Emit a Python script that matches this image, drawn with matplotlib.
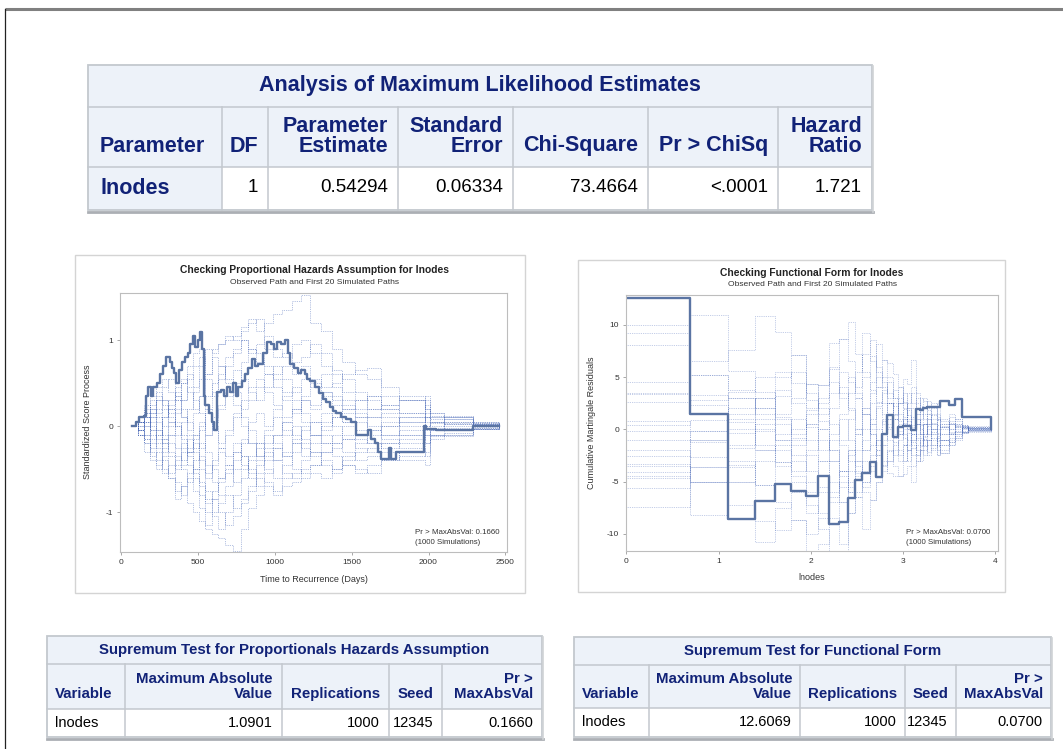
import matplotlib
matplotlib.use("Agg")
import matplotlib.pyplot as plt
from matplotlib.patches import Rectangle

plt.rcParams['font.family'] = ['Liberation Sans', 'DejaVu Sans']
plt.rcParams['axes.unicode_minus'] = False

# ---------------------------------------------------------------- data
# Analysis of Maximum Likelihood Estimates
mle_columns = [["Parameter"], ["DF"], ["Parameter", "Estimate"], ["Standard", "Error"],
               ["Chi-Square"], ["Pr > ChiSq"], ["Hazard", "Ratio"]]
mle_row = ["lnodes", "1", "0.54294", "0.06334", "73.4664", "<.0001", "1.721"]

# Supremum tests
sup_columns = [["Variable"], ["Maximum Absolute", "Value"], ["Replications"], ["Seed"],
               ["Pr >", "MaxAbsVal"]]
ph_row = ["lnodes", "1.0901", "1000", "12345", "0.1660"]
ff_row = ["lnodes", "12.6069", "1000", "12345", "0.0700"]

# Proportional hazards check: observed standardized score process
ph_obs_time = [75, 97, 118, 151, 162, 177, 194, 211, 233, 254, 276, 297, 319, 334, 349, 362,
               377, 399, 420, 435, 453, 470, 485, 500, 517, 530, 539, 550, 571, 593, 608, 625,
               651, 672, 690, 707, 728, 750, 765, 787, 808, 830, 851, 873, 894, 927, 952, 974,
               996, 1017, 1039, 1067, 1088, 1103, 1125, 1153, 1174, 1196, 1211, 1233, 1261,
               1289, 1315, 1336, 1358, 1379, 1401, 1433, 1461, 1498, 1526, 1573, 1605, 1627,
               1649, 1670, 1690, 1741, 1756, 1790, 1830, 1972, 1985, 2050, 2290, 2460]
ph_obs_value = [0, 0.05, 0.1, 0.12, 0.35, 0.45, 0.35, 0.45, 0.5, 0.6, 0.7, 0.8, 0.75, 0.68,
                0.62, 0.5, 0.65, 0.75, 0.8, 0.85, 0.95, 1.05, 0.92, 1.0, 1.0901, 0.9, 0.35,
                0.25, 0.15, 0.05, -0.05, 0.4, 0.42, 0.35, 0.45, 0.4, 0.5, 0.35, 0.45, 0.52,
                0.6, 0.68, 0.78, 0.7, 0.72, 0.85, 0.98, 0.95, 0.9, 0.98, 0.95, 1.0, 0.85,
                0.72, 0.68, 0.62, 0.65, 0.6, 0.55, 0.52, 0.45, 0.38, 0.32, 0.28, 0.22, 0.18,
                0.15, 0.1, 0.08, 0.05, -0.1, -0.1, -0.05, -0.15, -0.2, -0.3, -0.38, -0.26,
                -0.38, -0.3, -0.3, 0.0, -0.03, -0.05, 0.0, 0.0]

# Proportional hazards check: first 20 simulated paths
ph_sim_time = [75, 110, 150, 190, 230, 270, 310, 350, 390, 430, 470, 510, 550, 590, 630, 680,
               730, 780, 830, 880, 930, 990, 1050, 1110, 1170, 1230, 1300, 1370, 1440, 1520,
               1600, 1690, 1810, 1980, 2010, 2100, 2290, 2460]
ph_sim_01 = [0, 0.05, 0.1, -0.05, 0.15, 0.3, 0.2, 0.35, 0.5, 0.6, 0.45, 0.7, 0.9, 0.85, 0.95, 1.05, 1.0, 1.15, 1.25, 1.1, 1.2, 1.3, 1.35, 1.45, 1.52, 1.2, 1.1, 0.9, 0.75, 0.6, 0.55, 0.35, 0.3, 0.1, 0.05, 0.1, 0.02, 0.0]
ph_sim_02 = [0, -0.1, -0.2, -0.35, -0.3, -0.5, -0.6, -0.75, -0.7, -0.9, -1.0, -1.1, -1.2, -1.25, -1.3, -1.38, -1.45, -1.2, -0.95, -0.8, -0.7, -0.75, -0.6, -0.55, -0.5, -0.45, -0.4, -0.5, -0.35, -0.3, -0.25, -0.2, -0.15, -0.05, -0.1, -0.05, 0.0, 0.0]
ph_sim_03 = [0, 0.05, -0.1, 0.1, 0.2, 0.0, 0.25, 0.4, 0.3, 0.55, 0.7, 0.8, 0.6, 0.9, 0.95, 1.0, 1.05, 1.1, 1.2, 1.25, 0.9, 0.8, 0.85, 0.6, 0.7, 0.55, 0.45, 0.5, 0.6, 0.65, 0.68, 0.45, 0.3, 0.2, 0.1, 0.12, 0.05, 0.02]
ph_sim_04 = [0, -0.05, 0.1, -0.2, -0.4, -0.55, -0.45, -0.65, -0.8, -0.6, -0.75, -0.95, -1.15, -1.0, -0.9, -0.8, -0.95, -0.85, -0.7, -0.6, -0.65, -0.8, -0.7, -0.65, -0.6, -0.55, -0.6, -0.5, -0.45, -0.55, -0.45, -0.4, -0.35, -0.2, -0.15, -0.1, -0.03, 0.0]
ph_sim_05 = [0, 0.1, 0.2, 0.35, 0.45, 0.55, 0.4, 0.3, 0.5, 0.7, 0.85, 0.9, 0.55, 0.35, 0.6, 0.8, 0.9, 1.0, 0.85, 0.95, 1.05, 0.9, 0.8, 0.95, 1.0, 0.85, 0.7, 0.6, 0.4, 0.3, 0.2, 0.25, 0.15, 0.35, 0.1, 0.05, 0.03, 0.0]
ph_sim_06 = [0, -0.1, -0.3, -0.15, -0.05, -0.2, -0.35, -0.5, -0.45, -0.3, -0.55, -0.7, -0.9, -0.75, -0.6, -0.45, -0.3, -0.15, -0.2, -0.35, -0.2, -0.1, 0.05, -0.1, -0.25, -0.35, -0.3, -0.25, -0.15, -0.1, -0.05, 0.05, 0.1, 0.25, 0.15, 0.08, 0.02, 0.0]
ph_sim_07 = [0, 0.05, 0.15, 0.3, 0.1, -0.1, 0.05, 0.2, 0.1, -0.05, 0.15, 0.35, 0.6, 0.8, 0.7, 0.5, 0.65, 0.55, 0.4, 0.3, 0.45, 0.6, 0.7, 0.75, 0.8, 0.95, 0.85, 0.65, 0.55, 0.4, 0.3, 0.2, 0.35, 0.3, 0.15, 0.1, 0.05, 0.0]
ph_sim_08 = [0, -0.05, -0.2, -0.4, -0.5, -0.35, -0.6, -0.85, -0.7, -0.55, -0.4, -0.2, -0.45, -0.65, -0.8, -0.7, -0.5, -0.35, -0.55, -0.45, -0.3, -0.4, -0.55, -0.6, -0.4, -0.3, -0.2, -0.35, -0.45, -0.5, -0.55, -0.3, -0.4, -0.45, -0.1, -0.12, -0.04, 0.0]
ph_sim_09 = [0, 0.0, 0.1, 0.2, 0.35, 0.25, 0.1, 0.0, -0.15, -0.25, -0.1, 0.05, -0.3, -0.5, -0.6, -0.55, -0.4, -0.2, 0.05, 0.15, 0.0, 0.2, 0.35, 0.45, 0.3, 0.2, 0.35, 0.25, 0.15, 0.05, -0.05, -0.15, -0.25, -0.3, -0.05, 0.0, 0.02, 0.0]
ph_sim_10 = [0, 0.1, 0.05, -0.1, -0.25, -0.15, 0.0, 0.15, 0.3, 0.45, 0.3, 0.15, -0.1, 0.05, 0.2, 0.35, 0.5, 0.75, 0.9, 0.85, 0.7, 0.55, 0.4, 0.3, 0.15, 0.05, -0.05, 0.1, 0.2, 0.1, 0.0, -0.1, 0.05, 0.15, 0.12, 0.1, 0.04, 0.0]
ph_sim_11 = [0, -0.05, 0.05, 0.2, 0.05, -0.15, -0.3, -0.45, -0.3, -0.15, -0.3, -0.5, -0.75, -0.85, -1.0, -1.15, -1.05, -0.9, -0.75, -0.55, -0.4, -0.25, -0.35, -0.5, -0.55, -0.45, -0.3, -0.2, -0.1, -0.15, -0.2, -0.1, -0.05, 0.1, 0.05, -0.05, -0.02, 0.0]
ph_sim_12 = [0, 0.05, 0.15, 0.05, -0.1, 0.1, 0.3, 0.45, 0.55, 0.4, 0.2, 0.35, 0.2, 0.0, -0.2, -0.1, 0.1, 0.3, 0.45, 0.55, 0.4, 0.25, 0.1, 0.2, 0.05, -0.1, -0.2, -0.1, 0.0, 0.1, 0.2, 0.1, 0.0, -0.1, -0.05, 0.08, 0.02, 0.0]
ph_sim_13 = [0, -0.1, -0.15, 0.0, -0.15, -0.3, -0.2, -0.35, -0.5, -0.65, -0.5, -0.35, -0.55, -0.4, -0.25, -0.05, 0.15, 0.0, -0.2, -0.35, -0.5, -0.6, -0.45, -0.3, -0.2, -0.1, 0.0, 0.1, 0.05, -0.1, -0.2, -0.25, -0.2, -0.1, -0.1, -0.08, -0.02, 0.0]
ph_sim_14 = [0, 0.0, -0.1, -0.25, -0.1, 0.1, 0.2, 0.0, -0.25, -0.45, -0.6, -0.8, -1.0, -0.85, -0.65, -0.5, -0.3, -0.45, -0.6, -0.4, -0.25, -0.1, 0.05, 0.2, 0.3, 0.25, 0.4, 0.35, 0.2, 0.3, 0.35, 0.25, 0.3, 0.2, 0.08, 0.05, 0.01, 0.0]
ph_sim_15 = [0, 0.05, 0.0, 0.15, 0.3, 0.45, 0.55, 0.35, 0.2, 0.05, -0.1, -0.25, -0.1, 0.1, 0.25, 0.4, 0.25, 0.1, -0.05, -0.2, -0.35, -0.25, -0.1, 0.0, -0.15, -0.3, -0.45, -0.55, -0.4, -0.2, -0.1, 0.0, -0.1, -0.2, -0.05, -0.05, -0.03, 0.0]
ph_sim_16 = [0, -0.05, 0.05, -0.05, -0.2, -0.4, -0.55, -0.4, -0.2, -0.35, -0.5, -0.65, -0.85, -1.05, -1.2, -1.0, -0.8, -0.6, -0.4, -0.25, -0.1, -0.2, -0.35, -0.2, -0.05, 0.05, 0.15, 0.0, -0.15, -0.25, -0.3, -0.2, -0.1, 0.0, 0.03, 0.02, -0.01, 0.0]
ph_sim_17 = [0, 0.1, 0.25, 0.15, 0.3, 0.2, 0.05, -0.1, 0.05, 0.2, 0.4, 0.55, 0.35, 0.5, 0.7, 0.55, 0.4, 0.2, 0.3, 0.45, 0.6, 0.45, 0.3, 0.15, 0.35, 0.5, 0.4, 0.3, 0.25, 0.15, 0.1, 0.0, 0.1, 0.05, 0.0, 0.03, 0.01, 0.0]
ph_sim_18 = [0, -0.05, -0.15, -0.3, -0.45, -0.25, -0.1, 0.05, -0.1, -0.3, -0.2, -0.4, -0.6, -0.45, -0.3, -0.45, -0.65, -0.5, -0.35, -0.2, -0.05, 0.1, -0.05, -0.2, -0.35, -0.2, -0.1, -0.2, -0.3, -0.4, -0.35, -0.4, -0.3, -0.35, -0.12, -0.1, -0.03, 0.0]
ph_sim_19 = [0, 0.05, 0.1, 0.25, 0.4, 0.3, 0.15, 0.3, 0.1, -0.1, -0.25, -0.05, 0.2, 0.4, 0.55, 0.7, 0.85, 1.0, 0.9, 0.75, 0.6, 0.7, 0.55, 0.4, 0.55, 0.45, 0.6, 0.45, 0.3, 0.2, 0.35, 0.2, 0.15, 0.0, 0.05, 0.02, 0.0, 0.0]
ph_sim_20 = [0, -0.1, 0.0, 0.1, -0.05, -0.2, -0.1, -0.25, -0.4, -0.3, -0.15, 0.0, 0.15, -0.05, -0.25, -0.35, -0.2, -0.35, -0.5, -0.7, -0.55, -0.4, -0.3, -0.15, 0.0, -0.1, 0.05, 0.15, 0.05, -0.05, 0.1, 0.15, 0.05, 0.1, -0.02, -0.02, 0.0, 0.0]
ph_sims = [ph_sim_01, ph_sim_02, ph_sim_03, ph_sim_04, ph_sim_05, ph_sim_06, ph_sim_07,
           ph_sim_08, ph_sim_09, ph_sim_10, ph_sim_11, ph_sim_12, ph_sim_13, ph_sim_14,
           ph_sim_15, ph_sim_16, ph_sim_17, ph_sim_18, ph_sim_19, ph_sim_20]

# Functional form check: cumulative martingale residuals over lnodes
ff_lnodes = [0, 0.69, 1.10, 1.39, 1.61, 1.79, 1.95, 2.08, 2.20, 2.30, 2.40, 2.48, 2.56, 2.64,
             2.71, 2.77, 2.83, 2.89, 2.94, 3.00, 3.04, 3.09, 3.14, 3.18, 3.22, 3.26, 3.30,
             3.37, 3.40, 3.50, 3.56, 3.64, 3.71, 3.95]
ff_obs = [12.6069, 1.44, -8.6, -6.9, -5.2, -5.9, -6.35, -4.5, -9.1, -8.85, -6.55, -4.85, -4.2,
          -3.1, -4.6, -0.5, 1.35, -0.7, 0.2, 0.35, 0.3, -0.1, 1.9, 1.85, 2.0, 2.1, 2.1, 2.1,
          2.7, 2.3, 2.9, 1.2, 1.2, 0]
ff_sim_01 = [9.98, 10.9, 5.6, 3.6, 1.2, -0.5, 1.8, 3.0, 5.8, 8.6, 10.3, 7.2, 5.5, 3.8, 2.6, 1.5, 0.2, -1.2, -2.5, -1.5, -0.4, 1.2, 0.5, -0.8, -1.6, -1.0, -0.3, 0.4, -0.5, 0.6, 0.2, -0.3, 0.1, 0]
ff_sim_02 = [9.2, 6.5, 7.6, 10.85, 9.3, 7.1, 4.3, 2.0, 0.5, -1.5, -3.0, -4.2, -2.0, 0.5, 2.2, 3.8, 2.5, 1.0, -0.5, 0.6, 1.8, 0.4, -0.8, -1.5, -0.7, 0.5, 1.4, 0.9, 0.2, -0.4, 0.3, 0.1, -0.2, 0]
ff_sim_03 = [8.1, 5.2, 3.75, 1.5, 3.2, 5.5, 2.8, 0.8, -2.0, -4.5, -6.0, -6.5, -9.55, -6.8, -5.0, -3.4, -2.1, -0.8, 0.5, 1.9, 0.8, -1.2, -2.5, -1.6, -0.6, 0.3, -0.5, -1.1, -2.3, -1.2, -0.6, 0.2, 0.0, 0]
ff_sim_04 = [4.55, 3.3, 0.7, -1.5, -3.1, -5.0, -7.2, -9.5, -12.5, -12.5, -8.0, -6.0, -4.0, -2.5, -1.0, 0.8, 2.5, 1.4, -0.2, -1.5, -3.0, -1.8, -0.5, 0.4, -0.9, -2.2, -1.5, -0.8, 0.3, -0.3, 0.4, -0.2, 0.1, 0]
ff_sim_05 = [3.5, 2.8, 3.6, 5.0, 5.5, 4.4, 2.0, 4.2, 6.0, 3.5, 1.8, -0.5, 2.0, 4.5, 8.2, 6.6, 6.3, 5.3, 4.0, 2.6, 1.4, 0.2, 1.5, 3.0, 2.7, 1.8, 0.6, -0.4, -1.0, -0.5, 0.5, 0.3, -0.1, 0]
ff_sim_06 = [2.6, 2.3, 0.0, -2.0, -3.5, -1.5, 0.5, -1.0, -3.0, -5.5, -4.0, -2.0, 0.0, 2.5, 4.0, 5.0, 3.5, 2.2, 0.8, -0.5, -2.0, -3.5, -2.5, -1.0, 0.5, 1.5, 2.5, 1.2, 0.0, 0.8, 0.2, -0.3, 0.2, 0]
ff_sim_07 = [0.8, -0.2, 1.5, 3.0, 1.0, -0.8, -2.5, -4.5, -7.0, -5.0, -2.5, 0.0, 2.0, 0.5, -1.5, -3.0, -4.2, -4.5, -4.5, -4.3, -3.5, -5.0, -3.0, -2.0, -2.5, -1.5, -0.8, -1.6, -1.0, -1.5, -0.8, -0.4, -0.2, 0]
ff_sim_08 = [0.4, 0.9, 3.0, 2.0, 3.8, 2.5, 0.2, -2.0, -0.5, 1.5, 3.5, 5.5, 7.2, 8.5, 6.0, 4.5, 3.0, 3.8, 2.5, 4.8, 4.3, 6.6, 3.5, 2.2, 1.5, 2.7, 2.0, 1.0, 0.5, 1.2, 0.8, 0.3, 0.1, 0]
ff_sim_09 = [-0.2, -1.0, -0.4, 0.5, -1.0, -2.5, -4.0, -6.0, -8.5, -11.0, -8.0, -6.5, -5.0, -3.5, -2.0, -0.5, 1.0, 2.5, 1.0, -0.8, -2.0, -1.0, 0.5, 1.0, 2.0, 1.0, 0.0, -0.8, -1.5, -0.8, -0.3, 0.3, -0.1, 0]
ff_sim_10 = [-1.0, -1.2, -1.8, -0.2, 1.5, 3.0, 4.3, 4.2, 8.3, 8.6, 6.5, 4.0, 9.2, 6.5, 4.0, 2.5, 1.0, -0.5, -2.0, -3.0, -2.0, -0.5, 1.0, 0.0, -1.0, -2.5, -1.8, -0.6, 0.5, 1.5, 1.0, 0.4, 0.2, 0]
ff_sim_11 = [-2.0, -2.65, -3.4, -5.3, -3.1, -4.5, -6.0, -8.0, -6.5, -4.0, -2.0, -3.5, -5.5, -4.0, -2.5, -1.0, 0.5, 1.5, 2.5, 3.5, 2.0, 1.0, -1.0, -2.0, -1.0, 0.0, -1.0, -2.0, -1.0, 0.0, -0.5, 0.2, 0.1, 0]
ff_sim_12 = [-2.6, -3.6, -5.0, -3.0, -1.5, 0.0, 1.5, 0.0, -2.0, -4.0, -6.0, -4.5, -3.0, -1.5, 0.0, -1.5, -3.0, -2.0, -3.0, -1.5, 0.5, 2.0, 3.0, 2.0, 1.0, -0.5, -1.5, -2.5, -2.0, -1.0, -0.2, 0.1, 0.2, 0]
ff_sim_13 = [-3.3, -5.0, -7.2, -8.8, -9.6, -8.7, -11.7, -11.0, -9.0, -7.0, -5.0, -3.0, -1.0, 1.0, 2.5, 3.5, 4.5, 3.0, 1.5, 0.0, -1.0, -2.5, -1.5, -0.5, 0.5, 1.0, 0.0, -1.0, -0.5, 0.5, 0.0, -0.3, 0.0, 0]
ff_sim_14 = [-3.5, -8.2, -5.0, -10.8, -7.5, -6.0, -8.0, -5.5, -3.0, -1.0, 1.0, 3.0, 1.5, -0.5, -2.0, -4.0, -3.0, -1.5, -0.5, 1.0, 0.0, -1.0, 0.5, 2.0, 3.0, 2.0, 1.0, 0.0, -1.0, -1.2, -0.5, 0.1, 0.0, 0]
ff_sim_15 = [-4.05, -1.0, 1.0, 3.0, 5.0, 7.1, 3.5, 1.5, 3.5, 5.5, 4.5, 3.0, 5.0, 7.0, 5.5, 4.0, 2.5, 1.0, -0.5, 1.0, 2.5, 4.0, 2.5, 1.5, 0.5, -0.5, 0.5, 1.5, 0.8, 0.0, 0.5, 0.2, -0.1, 0]
ff_sim_16 = [-4.5, -5.0, -3.6, -2.0, -0.5, 1.0, -1.0, -3.0, -5.0, -7.0, -5.5, -4.0, -6.0, -6.8, -5.0, -3.5, -2.0, -3.5, -4.5, -3.0, -1.5, -0.5, -2.0, -3.0, -2.0, -1.0, -2.0, -2.5, -1.5, -0.5, -0.8, -0.3, 0.1, 0]
ff_sim_17 = [-4.7, -0.2, 2.0, 0.0, -2.0, -4.0, -2.0, 0.0, 2.0, 4.0, 2.0, 0.0, -2.0, 0.0, 2.0, 0.5, -1.0, -2.5, -1.0, 0.5, 2.0, 3.5, 1.5, 0.5, -0.5, 0.5, 1.5, 2.5, 1.0, 0.5, 0.3, 0.0, -0.1, 0]
ff_sim_18 = [-5.65, -3.6, -1.5, 1.0, -1.0, -3.0, -5.0, -3.0, -1.0, 1.0, -1.0, -3.0, -5.0, -3.0, -1.0, 1.0, 2.5, 1.0, 2.5, 1.2, 0.0, -1.5, -3.0, -2.0, -0.5, 0.5, -0.5, -1.5, -2.3, -1.5, -1.0, -0.4, -0.3, 0]
ff_sim_19 = [-7.4, -5.0, -3.0, -5.3, -7.0, -8.7, -10.0, -8.5, -6.0, -4.0, -2.0, -0.5, 1.5, 3.5, 5.0, 6.6, 5.0, 3.0, 4.0, 2.5, 1.0, -0.5, 0.5, -0.5, -1.5, -1.0, 0.0, 1.0, 0.2, 0.5, 1.0, 0.4, 0.3, 0]
ff_sim_20 = [3.4, 5.2, 3.0, 2.0, 0.5, -1.0, 0.5, 2.5, 4.5, 3.0, 5.0, 3.5, 1.5, -0.5, -2.5, -1.5, 0.0, 1.5, 3.0, 2.0, 3.5, 2.5, 1.0, -0.5, 0.5, 1.5, 0.5, -0.5, 0.2, -0.5, -0.3, 0.2, 0.0, 0]
ff_sims = [ff_sim_01, ff_sim_02, ff_sim_03, ff_sim_04, ff_sim_05, ff_sim_06, ff_sim_07,
           ff_sim_08, ff_sim_09, ff_sim_10, ff_sim_11, ff_sim_12, ff_sim_13, ff_sim_14,
           ff_sim_15, ff_sim_16, ff_sim_17, ff_sim_18, ff_sim_19, ff_sim_20]

# ---------------------------------------------------------------- style
W, H = 1063, 749
NAVY = '#112277'
HEAD_BG = '#EDF2F9'
GRID = '#C3C8CE'
OBS_COLOR = '#5A74A3'
SIM_COLOR = '#3558B0'
TEXT = '#333333'

fig = plt.figure(figsize=(W / 100, H / 100), dpi=100)
page = fig.add_axes([0, 0, 1, 1])
page.set_xlim(0, W)
page.set_ylim(H, 0)
page.axis('off')

# page frame
page.plot([5, W], [9, 9], color='#808080', lw=2.2, solid_capstyle='butt')
page.plot([5, 5], [9, H], color='#222222', lw=0.9)


def draw_table(cols, rows, title, headers, body, fs_title, fs_head, fs_body,
               head_base, line_gap, body_y, pad_l, pad_r, row_header=False):
    x0, x1 = cols[0], cols[-1]
    r0, r1, r2, r3 = rows
    page.add_patch(Rectangle((x0, r0), x1 - x0, r2 - r0, fc=HEAD_BG, ec='none'))
    page.add_patch(Rectangle((x0, r2), x1 - x0, r3 - r2, fc='white', ec='none'))
    if row_header:
        page.add_patch(Rectangle((x0, r2), cols[1] - x0, r3 - r2, fc=HEAD_BG, ec='none'))
    for y in (r1, r2):
        page.plot([x0, x1], [y, y], color=GRID, lw=1.1)
    for x in cols[1:-1]:
        page.plot([x, x], [r1, r3], color=GRID, lw=1.1)
    page.add_patch(Rectangle((x0, r0), x1 - x0, r3 - r0, fill=False, ec=GRID, lw=1.3))
    page.plot([x0, x1 + 1], [r3 + 1.5, r3 + 1.5], color='#ABAFB4', lw=2.0)
    page.plot([x1 + 1, x1 + 1], [r0 + 1, r3 + 1.5], color='#D0D3D6', lw=1.2)
    page.text((x0 + x1) / 2, (r0 + r1) / 2, title, ha='center', va='center',
              fontsize=fs_title, fontweight='bold', color=NAVY)
    for i, lines in enumerate(headers):
        n = len(lines)
        for k, line in enumerate(lines):
            y = head_base - (n - 1 - k) * line_gap
            if i == 0:
                page.text(x0 + pad_l, y, line, ha='left', va='center',
                          fontsize=fs_head, fontweight='bold', color=NAVY)
            else:
                page.text(cols[i + 1] - pad_r, y, line, ha='right', va='center',
                          fontsize=fs_head, fontweight='bold', color=NAVY)
    for i, val in enumerate(body):
        if i == 0:
            if row_header:
                page.text(x0 + pad_l, body_y, val, ha='left', va='center',
                          fontsize=fs_head, fontweight='bold', color=NAVY)
            else:
                page.text(x0 + pad_l, body_y, val, ha='left', va='center',
                          fontsize=fs_body, color='black')
        else:
            page.text(cols[i + 1] - pad_r, body_y, val, ha='right', va='center',
                      fontsize=fs_body, color='black')


# ---------------------------------------------------------------- tables
draw_table([88, 222, 268, 398, 513, 648, 778, 872], [65, 107, 167, 210],
           "Analysis of Maximum Likelihood Estimates", mle_columns, mle_row,
           15.5, 15.5, 13.5, 146, 20, 188, 12, 10, row_header=True)

draw_table([47, 125, 282, 389, 442, 542], [636, 664, 709, 737],
           "Supremum Test for Proportionals Hazards Assumption", sup_columns, ph_row,
           10.8, 10.8, 10.5, 694, 15, 723, 8, 9)

draw_table([574, 649, 800, 905, 956, 1051], [637, 665, 708, 737],
           "Supremum Test for Functional Form", sup_columns, ff_row,
           10.8, 10.8, 10.5, 694, 15, 722, 8, 8)

# ---------------------------------------------------------------- plot panels
page.add_patch(Rectangle((75, 255), 450, 338, fill=False, ec='#D4D4D4', lw=1.0))
page.add_patch(Rectangle((578, 260), 427, 332, fill=False, ec='#D4D4D4', lw=1.0))


def style_axes(ax):
    ax.set_facecolor('none')
    for sp in ax.spines.values():
        sp.set_color('#BDBDBD')
        sp.set_linewidth(0.8)
    ax.tick_params(direction='out', length=2.5, width=0.6, color='#9A9A9A',
                   labelsize=6, labelcolor=TEXT, pad=2.5)


# proportional hazards assumption
ax1 = fig.add_axes([120 / W, 1 - 552 / H, 387 / W, 259 / H])
for path in ph_sims:
    ax1.step(ph_sim_time, path, where='post', color=SIM_COLOR, lw=0.6,
             ls=(0, (1.0, 1.2)), alpha=0.5)
ax1.step(ph_obs_time, ph_obs_value, where='post', color=OBS_COLOR, lw=1.7)
ax1.set_xlim(-5, 2510)
ax1.set_ylim(-1.465, 1.547)
ax1.set_xticks([0, 500, 1000, 1500, 2000, 2500])
ax1.set_yticks([-1, 0, 1])
style_axes(ax1)

page.text(314, 270, "Checking Proportional Hazards Assumption for lnodes", ha='center',
          va='center', fontsize=7.4, fontweight='bold', color='#222222')
page.text(314, 282, "Observed Path and First 20 Simulated Paths", ha='center',
          va='center', fontsize=6.1, color=TEXT)
page.text(314, 579, "Time to Recurrence (Days)", ha='center', va='center',
          fontsize=6.5, color=TEXT)
page.text(88, 422, "Standardized Score Process", ha='center', va='center',
          rotation=90, fontsize=6.5, color=TEXT)
page.text(415, 532, "Pr > MaxAbsVal: 0.1660", ha='left', va='center',
          fontsize=5.7, color=TEXT, zorder=5)
page.text(415, 543, "(1000 Simulations)", ha='left', va='center',
          fontsize=5.7, color=TEXT, zorder=5)

# functional form
ax2 = fig.add_axes([626 / W, 1 - 551 / H, 372 / W, 256 / H])
for path in ff_sims:
    ax2.step(ff_lnodes, path, where='post', color=SIM_COLOR, lw=0.6,
             ls=(0, (1.0, 1.2)), alpha=0.4)
ax2.step(ff_lnodes, ff_obs, where='post', color=OBS_COLOR, lw=1.7)
ax2.set_xlim(-0.005, 4.03)
ax2.set_ylim(-11.65, 12.85)
ax2.set_xticks([0, 1, 2, 3, 4])
ax2.set_yticks([-10, -5, 0, 5, 10])
style_axes(ax2)

page.text(812, 273, "Checking Functional Form for lnodes", ha='center', va='center',
          fontsize=7.4, fontweight='bold', color='#222222')
page.text(812, 284, "Observed Path and First 20 Simulated Paths", ha='center',
          va='center', fontsize=6.1, color=TEXT)
page.text(812, 578, "lnodes", ha='center', va='center', fontsize=6.5, color=TEXT)
page.text(592, 423, "Cumulative Martingale Residuals", ha='center', va='center',
          rotation=90, fontsize=6.5, color=TEXT)
page.text(906, 532, "Pr > MaxAbsVal: 0.0700", ha='left', va='center',
          fontsize=5.7, color=TEXT, zorder=5)
page.text(906, 543, "(1000 Simulations)", ha='left', va='center',
          fontsize=5.7, color=TEXT, zorder=5)

fig.savefig("out.png", dpi=100, facecolor='white')
